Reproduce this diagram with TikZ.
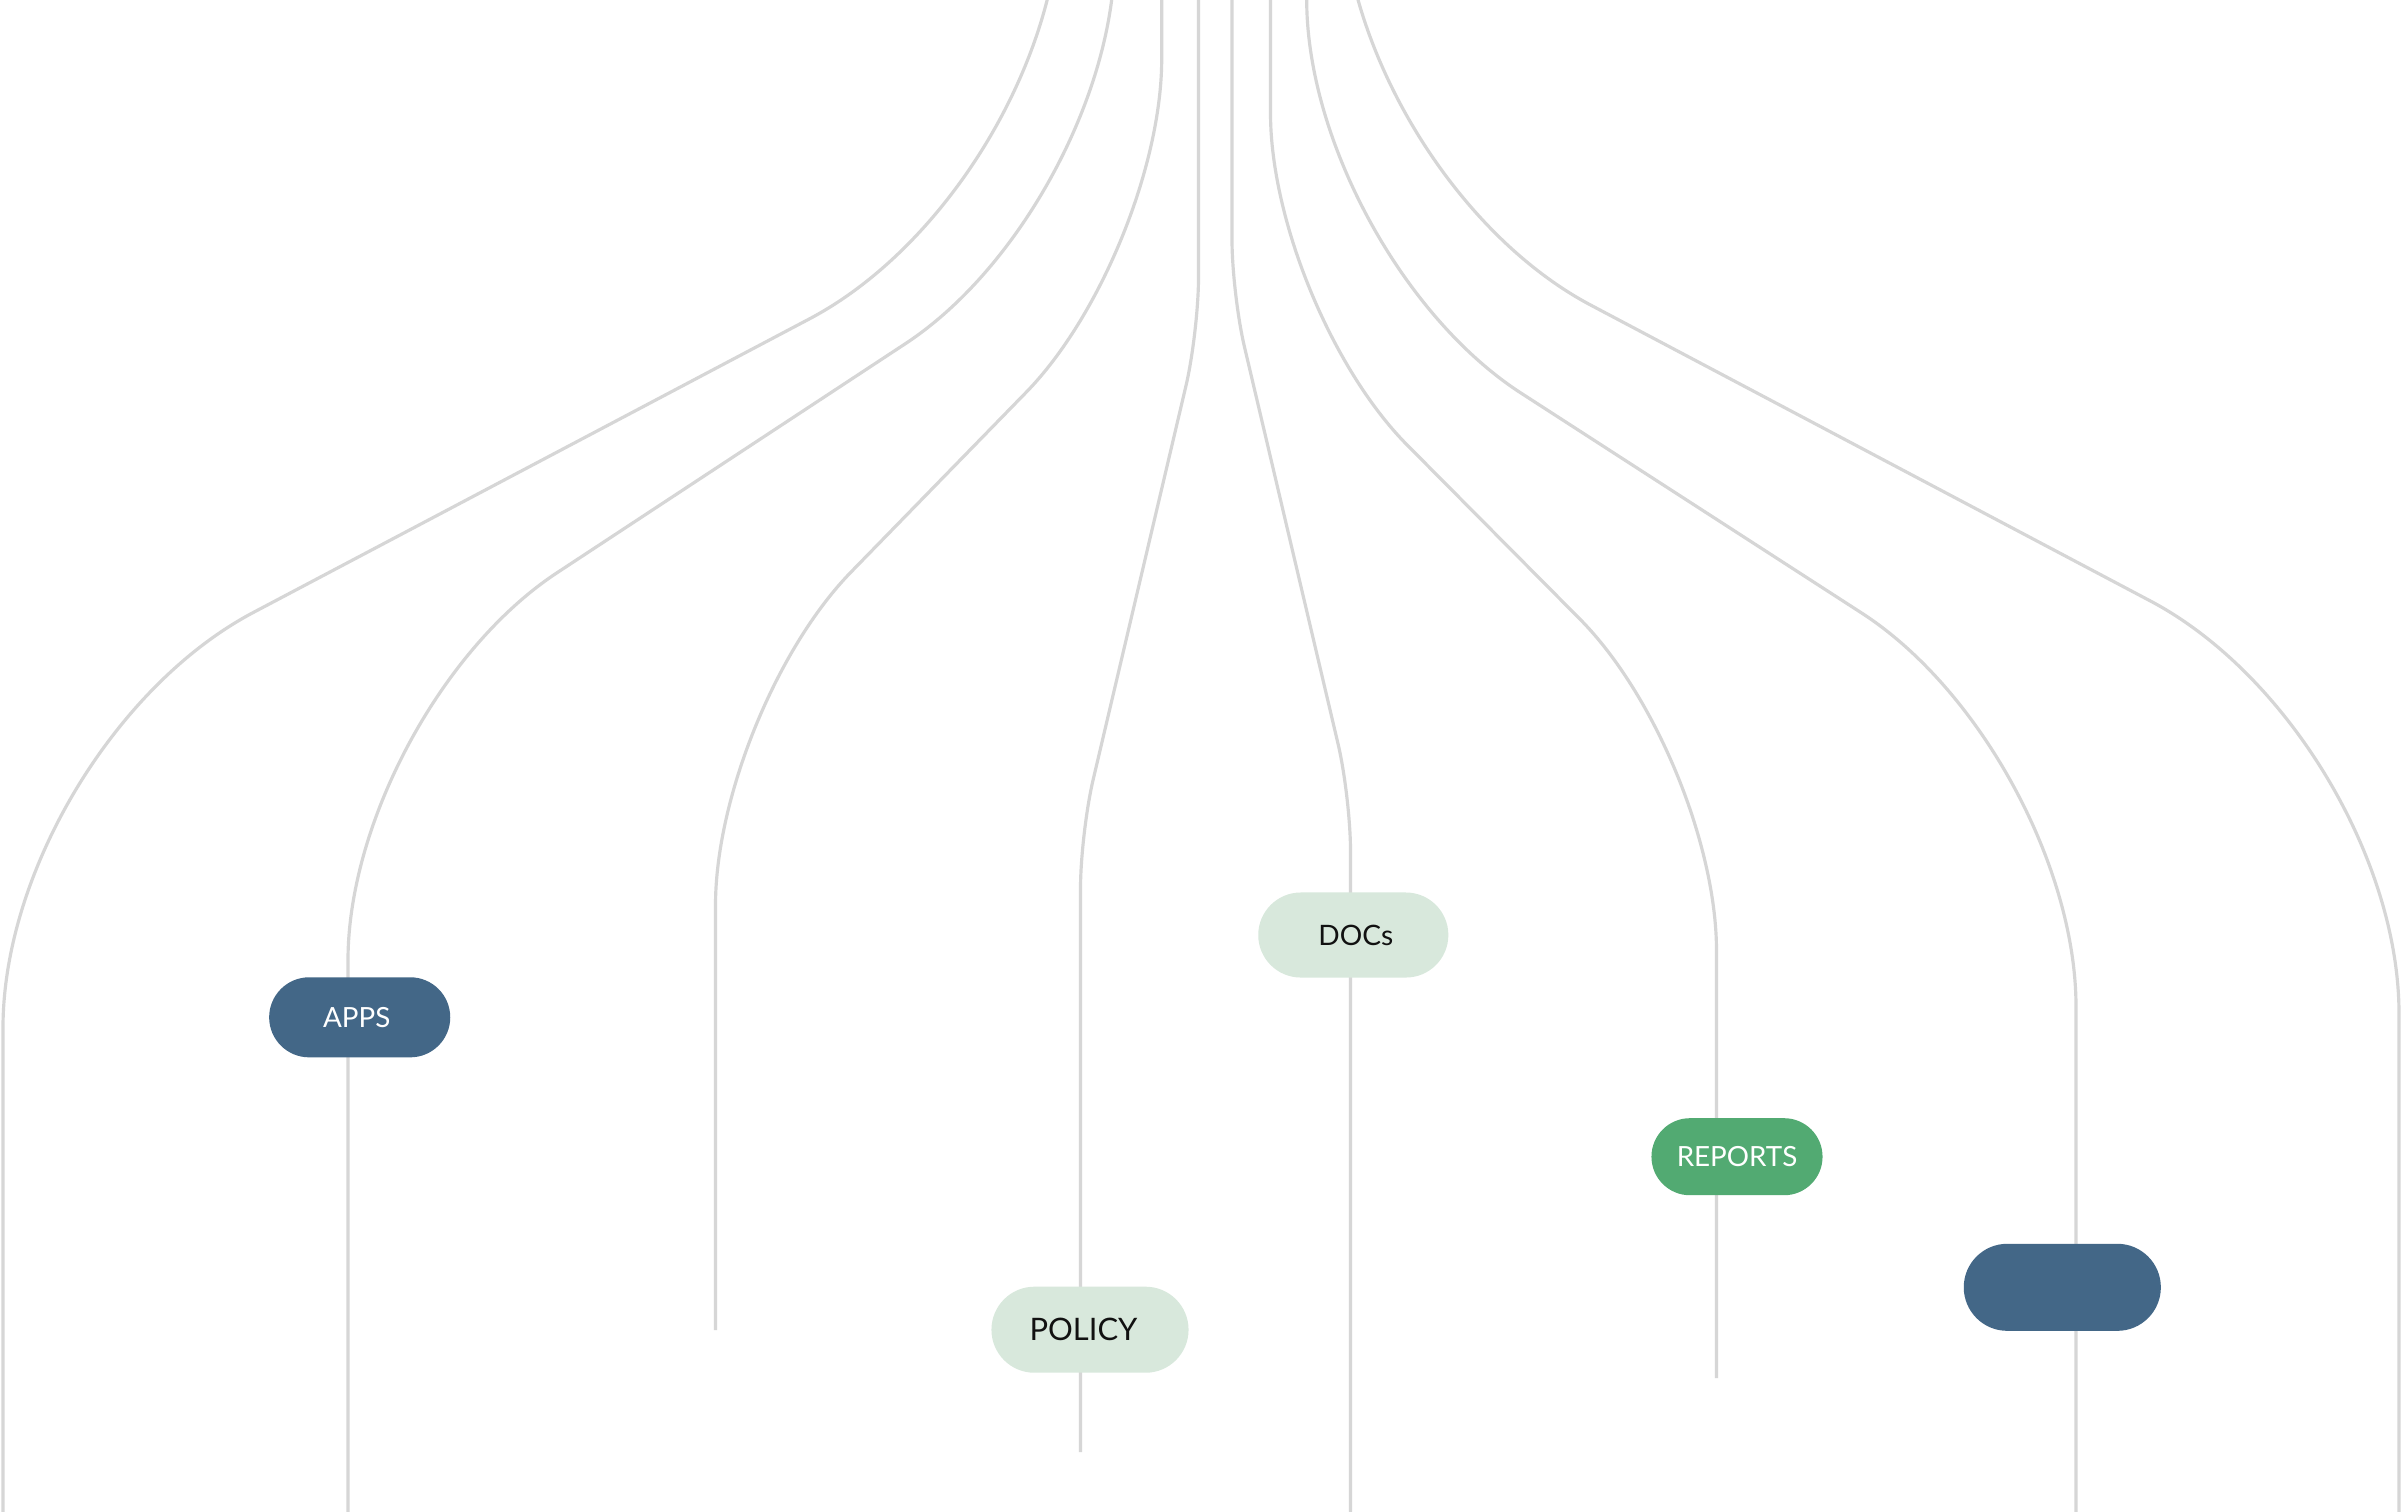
\documentclass[tikz,border=0pt]{standalone}
\usepackage{fontspec}
\setmainfont{Lato}
\definecolor{wiregrey}{HTML}{D6D6D6}
\definecolor{navy}{HTML}{436787}
\definecolor{mint}{HTML}{D8E8DC}
\definecolor{leaf}{HTML}{52AA72}
\definecolor{ink}{HTML}{111111}
\begin{document}
\begin{tikzpicture}[x=0.01cm,y=-0.01cm,
  wire/.style={draw=wiregrey, line width=0.9pt},
  pill/.style={inner sep=0pt, align=center},
]
\clip (0,0) rectangle (2402,1511);
\fill[white] (0,0) rectangle (2402,1511);

% wire anchor points
\coordinate (l1top) at (1060,-400);   \coordinate (l1a) at (1060,186.6);
\coordinate (l1b) at (3,744.6);       \coordinate (l1end) at (3,1600);
\coordinate (l2top) at (1114.6,-400); \coordinate (l2a) at (1114.6,206.1);
\coordinate (l2b) at (348,710.2);     \coordinate (l2end) at (348,1600);
\coordinate (l3top) at (1161.7,-50);  \coordinate (l3a) at (1161.7,253.2);
\coordinate (l3b) at (715.5,711.1);   \coordinate (l3end) at (715.5,1330);
\coordinate (l4top) at (1198.5,-50);  \coordinate (l4a) at (1198.5,332.6);
\coordinate (l4b) at (1080.5,833.3);  \coordinate (l4end) at (1080.5,1452);
\coordinate (l5top) at (1232,-50);    \coordinate (l5a) at (1232,294.0);
\coordinate (l5b) at (1350.5,796.7);  \coordinate (l5end) at (1350.5,1600);
\coordinate (l6top) at (1270.5,-50);  \coordinate (l6a) at (1270.5,307.3);
\coordinate (l6b) at (1716.5,756.7);  \coordinate (l6end) at (1716.5,1378);
\coordinate (l7top) at (1306.7,-400); \coordinate (l7a) at (1306.7,254.7);
\coordinate (l7b) at (2076,751.4);    \coordinate (l7end) at (2076,1600);
\coordinate (l8top) at (1342.2,-400); \coordinate (l8a) at (1342.2,173.7);
\coordinate (l8b) at (2399,732.4);    \coordinate (l8end) at (2399,1600);

% wires
\draw[wire, rounded corners=2.83cm] (l1top) -- (l1a) -- (l1b) -- (l1end);
\draw[wire, rounded corners=2.50cm] (l2top) -- (l2a) -- (l2b) -- (l2end);
\draw[wire, rounded corners=1.94cm] (l3top) -- (l3a) -- (l3b) -- (l3end);
\draw[wire, rounded corners=0.55cm] (l4top) -- (l4a) -- (l4b) -- (l4end);
\draw[wire, rounded corners=0.54cm] (l5top) -- (l5a) -- (l5b) -- (l5end);
\draw[wire, rounded corners=1.94cm] (l6top) -- (l6a) -- (l6b) -- (l6end);
\draw[wire, rounded corners=2.55cm] (l7top) -- (l7a) -- (l7b) -- (l7end);
\draw[wire, rounded corners=2.81cm] (l8top) -- (l8a) -- (l8b) -- (l8end);

% pills
\node[pill, fill=navy, text=white, minimum width=1.81cm, minimum height=0.80cm,
      rounded corners=0.40cm, font=\fontsize{7.9}{9}\selectfont]
      (apps) at (359.7,1017.3) {APPS\hspace{0.06cm}};
\node[pill, fill=mint, text=ink, minimum width=1.97cm, minimum height=0.86cm,
      rounded corners=0.43cm, font=\fontsize{8.8}{10}\selectfont]
      (policy) at (1090,1329.7) {POLICY\hspace{0.13cm}};
\node[pill, fill=mint, text=ink, minimum width=1.90cm, minimum height=0.85cm,
      rounded corners=0.425cm, font=\fontsize{8.0}{10}\selectfont]
      (docs) at (1353.3,935) {\hspace{0.05cm}DOCs};
\node[pill, fill=leaf, text=white, minimum width=1.71cm, minimum height=0.77cm,
      rounded corners=0.385cm, font=\fontsize{7.9}{9}\selectfont]
      (reports) at (1737,1156.7) {\raisebox{-0.03cm}{REPORTS}};
\node[pill, fill=navy, minimum width=1.97cm, minimum height=0.87cm,
      rounded corners=0.435cm] (blank) at (2062.3,1287.3) {};
\end{tikzpicture}
\end{document}
